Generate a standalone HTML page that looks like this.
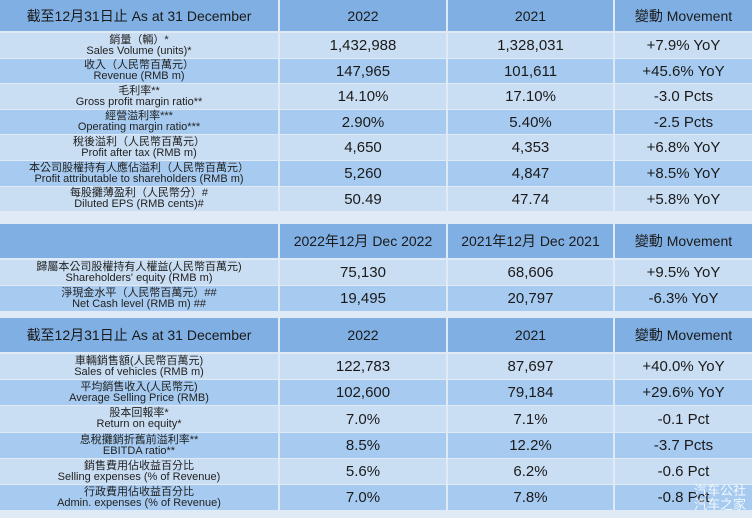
<!DOCTYPE html>
<html><head><meta charset="utf-8"><style>
*{margin:0;padding:0;box-sizing:border-box}
body{width:752px;height:518px;overflow:hidden;background:#dfeaf6;font-family:"Liberation Sans","Noto Sans CJK TC",sans-serif;position:relative}
.c{position:absolute;display:flex;align-items:center;justify-content:center;text-align:center;color:#1a1a1a}
.h{background:#80afe3;font-size:14px}
.l{background:#cadef3}
.d{background:#a7cbf0}
.lab{flex-direction:column;font-size:11px;line-height:11px;color:#222}
.v{font-size:15px}
.wm{position:absolute;right:6px;bottom:6px;color:rgba(255,255,255,.85);font-size:13px;line-height:14px;text-align:right;font-family:"Liberation Sans","Noto Sans CJK SC",sans-serif}
</style></head><body>
<div id="t"></div>
<div class="wm">汽车公社<br>汽车之家</div>
<script>
const cols=[[0,278],[280,446],[448,613],[615,752]];
const sections=[
{top:0,hh:32,head:["截至12月31日止  As at 31 December","2022","2021","變動  Movement"],rows:[
["銷量（輛）*","Sales Volume (units)*","1,432,988","1,328,031","+7.9% YoY"],
["收入（人民幣百萬元）","Revenue (RMB m)","147,965","101,611","+45.6% YoY"],
["毛利率**","Gross profit margin ratio**","14.10%","17.10%","-3.0 Pcts"],
["經營溢利率***","Operating margin ratio***","2.90%","5.40%","-2.5 Pcts"],
["稅後溢利（人民幣百萬元）","Profit after tax (RMB m)","4,650","4,353","+6.8% YoY"],
["本公司股權持有人應佔溢利（人民幣百萬元）","Profit attributable to shareholders (RMB m)","5,260","4,847","+8.5% YoY"],
["每股攤薄盈利（人民幣分）#","Diluted EPS (RMB cents)#","50.49","47.74","+5.8% YoY"]]},
{top:224,hh:35,head:["","2022年12月  Dec 2022","2021年12月  Dec 2021","變動  Movement"],rows:[
["歸屬本公司股權持有人權益(人民幣百萬元)","Shareholders' equity (RMB m)","75,130","68,606","+9.5% YoY"],
["淨現金水平（人民幣百萬元）##","Net Cash level (RMB m) ##","19,495","20,797","-6.3% YoY"]]},
{top:318,hh:35,head:["截至12月31日止  As at 31 December","2022","2021","變動  Movement"],rows:[
["車輛銷售額(人民幣百萬元)","Sales of vehicles (RMB m)","122,783","87,697","+40.0% YoY"],
["平均銷售收入(人民幣元)","Average Selling Price (RMB)","102,600","79,184","+29.6% YoY"],
["股本回報率*","Return on equity*","7.0%","7.1%","-0.1 Pct"],
["息稅攤銷折舊前溢利率**","EBITDA ratio**","8.5%","12.2%","-3.7 Pcts"],
["銷售費用佔收益百分比","Selling expenses (% of Revenue)","5.6%","6.2%","-0.6 Pct"],
["行政費用佔收益百分比","Admin. expenses (% of Revenue)","7.0%","7.8%","-0.8 Pct"]]}];
const t=document.getElementById('t');
function cell(x,y,w,h,cls,html){const e=document.createElement('div');e.className='c '+cls;e.style.cssText=`left:${x}px;top:${y}px;width:${w}px;height:${h}px`;e.innerHTML=html;t.appendChild(e);return e;}
sections.forEach((s,si)=>{
 s.head.forEach((txt,i)=>{const e=cell(cols[i][0],s.top,cols[i][1]-cols[i][0],s.hh-1,'h',txt);
 
 });
 const rh=si===0?25.6:26.2;
 s.rows.forEach((r,ri)=>{const y=Math.round(s.top+s.hh+1+ri*rh);const h=Math.round(s.top+s.hh+1+(ri+1)*rh)-y-1;const bg=ri%2?'d':'l';
  const a=cell(cols[0][0],y,cols[0][1]-cols[0][0],h,bg+' lab','<span>'+r[0]+'</span><span>'+r[1]+'</span>');
  
  
  for(let i=1;i<4;i++){const e=cell(cols[i][0],y,cols[i][1]-cols[i][0],h,bg+' v',r[i+1]);
  
  }
 });
});
</script>
</body></html>
